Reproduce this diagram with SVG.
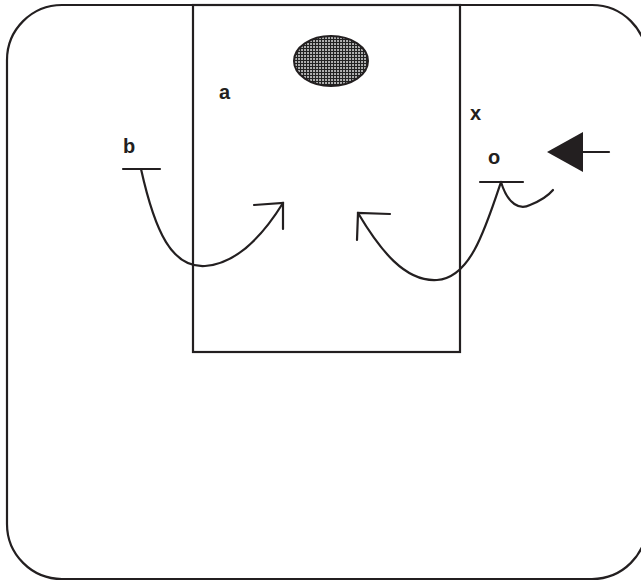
<svg xmlns="http://www.w3.org/2000/svg" width="641" height="583" viewBox="0 0 641 583">
<defs>
<pattern id="hatch" width="3" height="3" patternUnits="userSpaceOnUse">
<rect width="3" height="3" fill="#b0b0b0"/>
<path d="M0,0.5H3M0.5,0V3" stroke="#222" stroke-width="1.1"/>
</pattern>
</defs>
<style>
.ln{fill:none;stroke:#231f20;stroke-width:2.2;stroke-linecap:round}
.lbl{font-family:"Liberation Sans",Arial,sans-serif;font-weight:bold;font-size:20px;fill:#231f20}
</style>
<rect width="641" height="583" fill="#fff"/>
<g id="frame"><rect x="7" y="5" width="640" height="574" rx="55" ry="55" class="ln"/></g>
<g id="box"><rect x="193" y="5" width="267" height="347" class="ln"/></g>
<g id="blob"><ellipse cx="331" cy="61" rx="37" ry="25" fill="url(#hatch)" stroke="#231f20" stroke-width="2"/></g>
<g id="label-a"><text class="lbl" x="219" y="99">a</text></g>
<g id="label-x"><text class="lbl" x="470" y="120">x</text></g>
<g id="label-b"><text class="lbl" x="123" y="153">b</text></g>
<g id="label-o"><text class="lbl" x="488" y="164">o</text></g>
<g id="b-bar"><path class="ln" d="M123,169H160"/></g>
<g id="o-bar"><path class="ln" d="M480,182H523"/></g>
<g id="connectors">
<path class="ln" d="M141,169C155,232 172,268 205,266C235,264 260,240 283,203"/>
<path class="ln" d="M254,205L283,203L283,229"/>
<path class="ln" d="M501,182C485,230 470,278 437,280C405,282 380,250 358,213"/>
<path class="ln" d="M390,214L358,213L357,240"/>
<path class="ln" d="M501,182C508,205 520,210 530,205C540,201 548,196 553,190"/>
<polygon points="547,152 583,132 583,172" fill="#231f20"/>
<path class="ln" d="M583,152H609"/>
</g>
</svg>
